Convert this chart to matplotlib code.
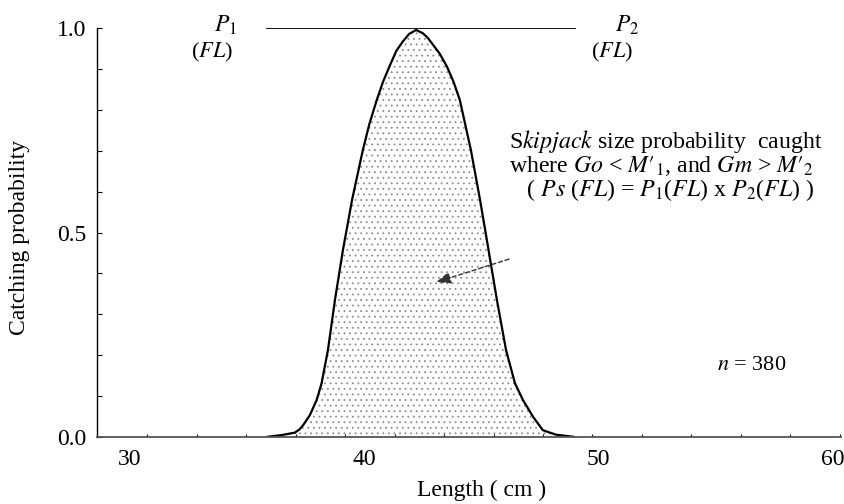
import numpy as np
import matplotlib
matplotlib.use('Agg')
import matplotlib.pyplot as plt

plt.rcParams['font.family'] = ['Liberation Serif', 'DejaVu Serif']
plt.rcParams['mathtext.fontset'] = 'stix'
plt.rcParams['hatch.linewidth'] = 0.6

# Catching probability Ps(FL) = P1(FL) x P2(FL)
length_cm = [35.89, 36.48, 37.04, 37.24, 37.40, 37.68, 37.97, 38.18, 38.45, 38.75,
             39.09, 39.48, 39.94, 40.22, 40.53, 40.80, 41.10, 41.37, 41.65, 41.91,
             42.21, 42.50, 42.72, 42.93, 43.23, 43.53, 43.81, 44.08, 44.55, 44.94,
             45.23, 45.66, 46.05, 46.43, 46.77, 47.20, 47.62, 48.18, 48.90]
catch_prob = [0.000, 0.004, 0.010, 0.018, 0.029, 0.053, 0.090, 0.131, 0.212, 0.335,
              0.457, 0.580, 0.702, 0.766, 0.824, 0.869, 0.910, 0.945, 0.968, 0.986,
              0.996, 0.988, 0.976, 0.960, 0.937, 0.906, 0.869, 0.824, 0.702, 0.580,
              0.482, 0.335, 0.212, 0.131, 0.090, 0.049, 0.016, 0.005, 0.000]

# flat parts of P1 and P2 at 1.0
top_x = [35.85, 49.0]
top_y = [1.0, 1.0]

x_labels = [30, 40, 50, 60]
y_major = [0.0, 0.5, 1.0]
n_fish = 380

fig = plt.figure(figsize=(8.44, 5.04), dpi=100)
ax = fig.add_axes([0.1153, 0.1335, 0.8811, 0.8103])

# stippled area under Ps(FL)
ax.fill_between(length_cm, catch_prob, 0, facecolor='white', edgecolor='#8c8c8c',
                linewidth=0, hatch='...')
ax.plot(length_cm, catch_prob, color='black', lw=1.6, solid_joinstyle='round')
ax.plot(top_x, top_y, color='black', lw=1.3)

ax.set_xlim(28.61, 60.34)
ax.set_ylim(0, 1)

for side in ['top', 'right']:
    ax.spines[side].set_visible(False)
ax.spines['left'].set_linewidth(1.0)
ax.spines['bottom'].set_linewidth(1.3)
ax.spines['bottom'].set_color('#555555')

ax.set_xticks(x_labels)
ax.set_xticklabels([str(v) for v in x_labels])
ax.set_xticks(np.linspace(30.74, 60.29, 15), minor=True)
ax.set_yticks(y_major)
ax.set_yticklabels(['%.1f' % v for v in y_major])
ax.set_yticks(np.arange(0, 1.01, 0.1), minor=True)
ax.tick_params(axis='x', which='major', length=0, pad=9, labelsize=17)
ax.tick_params(axis='x', which='minor', direction='in', length=2.5, width=0.8)
ax.tick_params(axis='y', which='both', direction='in', length=3.5, width=0.8)
ax.tick_params(axis='y', which='major', pad=8, labelsize=17)

ax.set_xlabel('Length ( cm )', fontsize=17)
ax.xaxis.set_label_coords(0.517, -0.106)
ax.set_ylabel('Catching probability', fontsize=17)
ax.yaxis.set_label_coords(-0.0905, 0.489)

ax.text(34.10, 0.991, r'$P_1$', fontsize=17, ha='center', va='baseline')
ax.text(33.49, 0.942, r'($FL$)', fontsize=16, ha='center', va='center')
ax.text(51.21, 0.991, r'$P_2$', fontsize=17, ha='center', va='baseline')
ax.text(50.57, 0.942, r'($FL$)', fontsize=16, ha='center', va='center')

note = (r"S$\it{kipjack}$ size probability  caught" + "\n"
        + r"where $Go$ < $M\prime_1$, and $Gm$ > $M\prime_2$" + "\n"
        + r"   ( $Ps$ ($FL$) = $P_1$($FL$) x $P_2$($FL$) )")
ax.text(46.17, 0.757, note, fontsize=17.2, va='top', ha='left', linespacing=0.97)
ax.text(55.03, 0.163, r'$n$ = %d' % n_fish, fontsize=16, va='baseline')

ax.annotate('', xy=(42.94, 0.376), xytext=(46.29, 0.437),
            arrowprops=dict(arrowstyle='-|>,head_length=0.9,head_width=0.35',
                            linestyle=(0, (3, 2)), color='#333333', lw=1.0))

plt.savefig('out.png', dpi=100)
